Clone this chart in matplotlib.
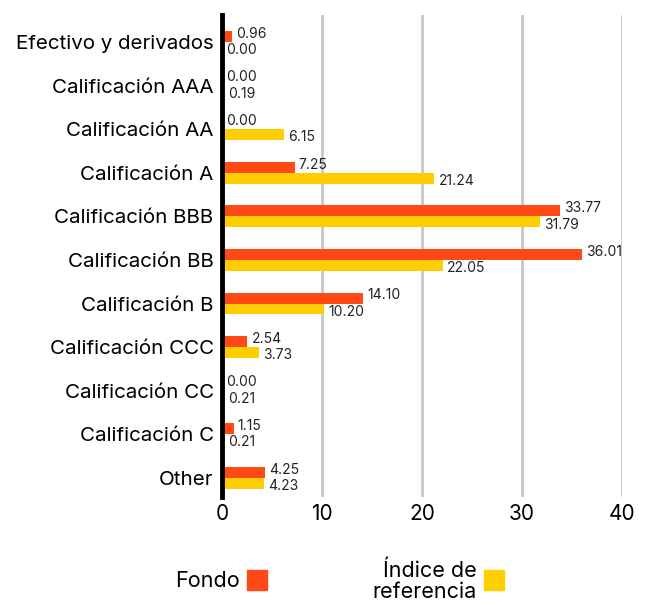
import numpy as np
import matplotlib.pyplot as plt
from matplotlib.patches import Rectangle

plt.rcParams['font.family'] = ['Inter', 'DejaVu Sans']

categories = ["Efectivo y derivados", "Calificación AAA", "Calificación AA",
              "Calificación A", "Calificación BBB", "Calificación BB",
              "Calificación B", "Calificación CCC", "Calificación CC",
              "Calificación C", "Other"]
fondo = [0.96, 0.00, 0.00, 7.25, 33.77, 36.01, 14.10, 2.54, 0.00, 1.15, 4.25]
indice = [0.00, 0.19, 6.15, 21.24, 31.79, 22.05, 10.20, 3.73, 0.21, 0.21, 4.23]

c_fondo = '#FF4A17'
c_indice = '#FFCE00'

fig = plt.figure(figsize=(6.51, 6.05), dpi=100)
ax = fig.add_axes([222/651, 1-497/605, (622-222)/651, (497-15)/605])

y = np.arange(len(categories))
h = 0.25
ax.barh(y - h/2, fondo, height=h, color=c_fondo, zorder=3)
ax.barh(y + h/2, indice, height=h, color=c_indice, zorder=3)

for yi, v in zip(y, fondo):
    ax.annotate(f"{v:.2f}", (v, yi - h/2), xytext=(3, 2), textcoords='offset points',
                va='center', ha='left', fontsize=10, color='#222222')
for yi, v in zip(y, indice):
    ax.annotate(f"{v:.2f}", (v, yi + h/2), xytext=(3, -2), textcoords='offset points',
                va='center', ha='left', fontsize=10, color='#222222')

ax.set_xlim(0, 40)
ax.set_ylim(10.44, -0.62)
ax.set_xticks([0, 10, 20, 30, 40])
ax.set_yticks(y)
ax.set_yticklabels(categories, fontsize=14.8)
ax.tick_params(axis='y', length=0, pad=6)
ax.tick_params(axis='x', length=0, labelsize=15, pad=5)
ax.grid(axis='x', color='#c8c8c8', linewidth=2, zorder=0)
for s in ['top', 'right', 'bottom']:
    ax.spines[s].set_visible(False)
ax.spines['left'].set_linewidth(3.5)
ax.spines['left'].set_color('black')
ax.spines['left'].set_zorder(4)

# legend
fig.text(240/651, 1-581/605, "Fondo", ha='right', va='center', fontsize=15.5)
fig.add_artist(Rectangle((247/651, 1-590/605), 20/651, 20/605,
                         transform=fig.transFigure, color=c_fondo))
fig.text(477/651, 1-581/605, "Índice de\nreferencia", ha='right', va='center',
         fontsize=15.5, multialignment='right', linespacing=1.05)
fig.add_artist(Rectangle((484/651, 1-590/605), 20/651, 20/605,
                         transform=fig.transFigure, color=c_indice))

fig.savefig("out.png", dpi=100)
